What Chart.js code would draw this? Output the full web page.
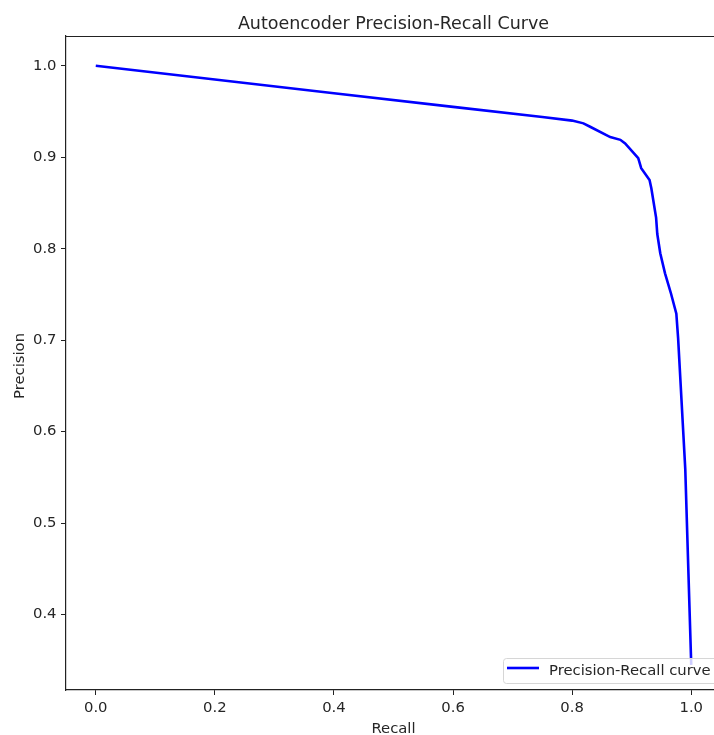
<!DOCTYPE html>
<html>
<head>
<meta charset="utf-8">
<script src="https://cdn.jsdelivr.net/npm/chart.js@4.4.1/dist/chart.umd.min.js"></script>
<style>
  html, body { margin: 0; padding: 0; background: #fff; overflow: hidden; }
  #wrap { width: 740px; height: 735px; }
</style>
</head>
<body>
<div id="wrap"><canvas id="chart1" width="740" height="735"></canvas></div>
<script>
// valores
const recall    = [0.0, 0.2, 0.4, 0.6, 0.75, 0.800, 0.819, 0.831, 0.864, 0.881, 0.889, 0.911, 0.916, 0.930, 0.933, 0.941, 0.943, 0.948, 0.956, 0.966, 0.975, 0.978, 0.990, 1.0];
const precision = [1.0, 0.985, 0.970, 0.955, 0.944, 0.940, 0.937, 0.933, 0.922, 0.919, 0.915, 0.899, 0.888, 0.875, 0.866, 0.834, 0.816, 0.795, 0.773, 0.751, 0.729, 0.702, 0.559, 0.345];
const xTicks = [0.0, 0.2, 0.4, 0.6, 0.8, 1.0];
const yTicks = [0.4, 0.5, 0.6, 0.7, 0.8, 0.9, 1.0];

const chartTitle = "Autoencoder Precision-Recall Curve";
const xLabel = "Recall";
const yLabel = "Precision";
const seriesLabel = "Precision-Recall curve";

const FONT = "'DejaVu Sans', sans-serif";
const TEXT = "#262626";

// moldura, títulos e legenda no estilo matplotlib
const extras = {
    id: "extras",
    afterDraw(chart) {
        const { ctx, chartArea: a } = chart;
        ctx.save();
        // linha superior da moldura
        ctx.strokeStyle = "#222";
        ctx.lineWidth = 1.2;
        ctx.beginPath();
        ctx.moveTo(a.left, a.top + 0.5);
        ctx.lineTo(a.right, a.top + 0.5);
        ctx.stroke();

        ctx.fillStyle = TEXT;
        ctx.textAlign = "center";
        ctx.textBaseline = "alphabetic";
        ctx.font = "17.5px " + FONT;
        ctx.fillText(chartTitle, (a.left + a.right) / 2, 29);

        ctx.font = "14.8px " + FONT;
        ctx.fillText(xLabel, (a.left + a.right) / 2, 733);
        ctx.save();
        ctx.translate(23.5, (a.top + a.bottom) / 2 + 3);
        ctx.rotate(-Math.PI / 2);
        ctx.fillText(yLabel, 0, 0);
        ctx.restore();

        // legenda (lower right)
        const bx = a.right - 218, bh = 25, bw = 240;
        const by = a.bottom - 7 - bh;
        ctx.fillStyle = "rgba(255,255,255,0.8)";
        ctx.strokeStyle = "#d6d6d6";
        ctx.lineWidth = 1;
        ctx.beginPath();
        ctx.roundRect(bx + 0.5, by + 0.5, bw, bh, 3);
        ctx.fill();
        ctx.stroke();
        ctx.strokeStyle = "#0000ff";
        ctx.lineWidth = 2.6;
        ctx.beginPath();
        ctx.moveTo(bx + 4, by + 10);
        ctx.lineTo(bx + 36, by + 10);
        ctx.stroke();
        ctx.fillStyle = TEXT;
        ctx.textAlign = "left";
        ctx.font = "14.8px " + FONT;
        ctx.fillText(seriesLabel, bx + 46, by + 17);
        ctx.restore();
    }
};

const ctx1 = document.getElementById("chart1").getContext("2d");
const chart1 = new Chart(ctx1, {
    type: "line",
    data: {
        datasets: [{
            label: seriesLabel,
            data: recall.map((r, i) => ({ x: r, y: precision[i] })),
            borderColor: "#0000ff",
            borderWidth: 2.6,
            pointRadius: 0,
            tension: 0,
            fill: false
        }]
    },
    options: {
        responsive: false,
        animation: false,
        layout: { padding: { top: 36, right: 19, left: 0, bottom: 0 } },
        plugins: { legend: { display: false }, title: { display: false }, tooltip: { enabled: false } },
        scales: {
            x: {
                type: "linear",
                min: -0.05,
                max: 1.05,
                afterFit: s => { s.height = 45; },
                afterBuildTicks: s => { s.ticks = xTicks.map(v => ({ value: v })); },
                grid: { drawOnChartArea: false, drawTicks: true, tickLength: 5, color: "#222" },
                border: { display: true, color: "#222", width: 1.2 },
                ticks: {
                    padding: 4,
                    color: TEXT,
                    font: { family: FONT, size: 14.8 },
                    callback: v => v.toFixed(1)
                }
            },
            y: {
                type: "linear",
                min: 0.3175,
                max: 1.0325,
                afterFit: s => { s.width = 66; },
                afterBuildTicks: s => { s.ticks = yTicks.map(v => ({ value: v })); },
                grid: { drawOnChartArea: false, drawTicks: true, tickLength: 5, color: "#222" },
                border: { display: true, color: "#222", width: 1.2 },
                ticks: {
                    padding: 4.5,
                    color: TEXT,
                    font: { family: FONT, size: 14.8 },
                    callback: v => v.toFixed(1)
                }
            }
        }
    },
    plugins: [extras]
});
</script>
</body>
</html>
